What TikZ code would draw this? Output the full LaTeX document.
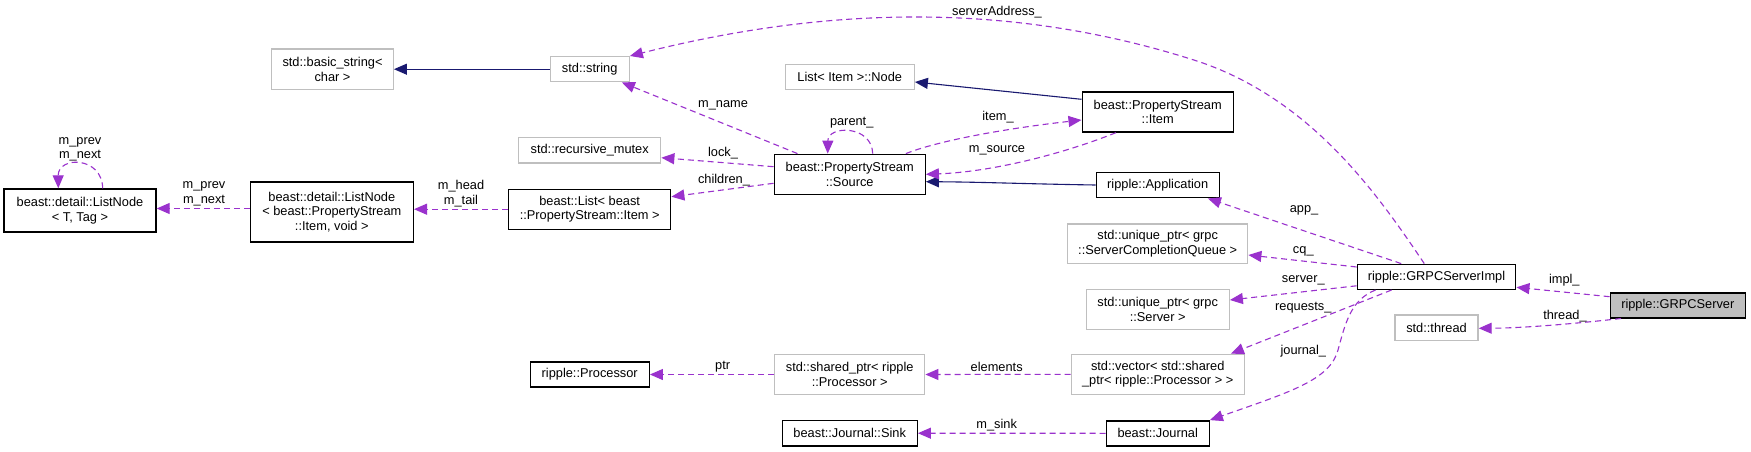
\documentclass[tikz,border=0pt]{standalone}
\usepackage{fontspec}
\setmainfont{Liberation Sans}
\usetikzlibrary{arrows.meta,calc}
\definecolor{purp}{HTML}{9A32CD}
\definecolor{navyb}{HTML}{191970}
\definecolor{gborder}{HTML}{BFBFBF}
\definecolor{gfill}{HTML}{BFBFBF}
\newcommand\dfont{\fontsize{12.8}{14.7}\selectfont}
\tikzset{
  box/.style={draw=black, line width=1.4pt, fill=white, align=center, inner sep=0pt, font=\dfont},
  gbox/.style={box, draw=gborder},
  dep/.style={draw=purp, line width=1.1pt, dash pattern=on 6pt off 4pt, -{Triangle[length=13pt,width=11pt]}},
  inh/.style={draw=navyb, line width=1.1pt, -{Triangle[length=13pt,width=11pt]}},
  lbl/.style={font=\dfont, align=center, inner sep=0pt, text=black},
}
\begin{document}
\begin{tikzpicture}[x=1pt,y=-1pt]
\useasboundingbox (0,0) rectangle (1751,452);
\fill[white] (0,0) rectangle (1751,452);
% nodes
\node[box, minimum width=152pt, minimum height=43pt] (ltag) at (80,210.5) {beast::detail::ListNode\\< T, Tag >};
\node[box, minimum width=163pt, minimum height=60pt] (lnode) at (331.8,212) {beast::detail::ListNode\\< beast::PropertyStream\\::Item, void >};
\node[box, minimum width=162pt, minimum height=40pt] (blist) at (589.7,209.2) {beast::List< beast\\::PropertyStream::Item >};
\node[gbox, minimum width=121.5pt, minimum height=40pt] (bstr) at (332.5,69.2) {std::basic\_string<\\char >};
\node[gbox, minimum width=79pt, minimum height=25pt] (str) at (589.7,69.2) {std::string};
\node[gbox, minimum width=142pt, minimum height=25.5pt] (rmutex) at (589.7,150.3) {std::recursive\_mutex};
\node[box, minimum width=151pt, minimum height=40pt] (src) at (849.7,174.3) {beast::PropertyStream\\::Source};
\node[gbox, minimum width=129pt, minimum height=25.5pt] (linode) at (849.7,77) {List< Item >::Node};
\node[box, minimum width=151pt, minimum height=40pt] (psitem) at (1157.7,112) {beast::PropertyStream\\::Item};
\node[box, minimum width=123pt, minimum height=25.5pt] (app) at (1157.7,185) {ripple::Application};
\node[gbox, minimum width=180pt, minimum height=39.5pt] (scq) at (1157.7,243.7) {std::unique\_ptr< grpc\\::ServerCompletionQueue >};
\node[gbox, minimum width=143pt, minimum height=40pt] (userv) at (1157.7,309.3) {std::unique\_ptr< grpc\\::Server >};
\node[gbox, minimum width=173pt, minimum height=40pt] (vec) at (1157.7,374.3) {std::vector< std::shared\\\_ptr< ripple::Processor > >};
\node[box, minimum width=103pt, minimum height=25pt] (jrnl) at (1157.7,433.3) {beast::Journal};
\node[box, minimum width=158.5pt, minimum height=25pt] (impl) at (1436.5,276.8) {ripple::GRPCServerImpl};
\node[box, fill=gfill, minimum width=135pt, minimum height=25pt] (grpc) at (1677.8,305.3) {ripple::GRPCServer};
\node[gbox, minimum width=83pt, minimum height=25.5pt] (thr) at (1436.5,327.8) {std::thread};
\node[box, minimum width=119pt, minimum height=25pt] (proc) at (589.7,374.5) {ripple::Processor};
\node[gbox, minimum width=150pt, minimum height=39.5pt] (sptr) at (849.7,374.5) {std::shared\_ptr< ripple\\::Processor >};
\node[box, minimum width=135pt, minimum height=25.5pt] (sink) at (849.7,433.2) {beast::Journal::Sink};
% inheritance
\draw[inh] (str.west) -- (bstr.east);
\draw[inh] ($(psitem.north west)+(0,8)$) -- ($(linode.east)+(0,5)$);
\draw[inh] (app.west) .. controls (1030,184) and (980,182) .. ($(src.east)+(0,7.4)$);
% dependencies
\draw[dep] ($(src.north west)+(24,0)$) -- ($(str.south east)+(-8,0)$);
\draw[dep] ($(src.west)+(0,-7.6)$) -- ($(rmutex.east)+(0,7.4)$);
\draw[dep] ($(src.west)+(0,9)$) -- ($(blist.east)+(0,-12.5)$);
\draw[dep] ($(src.north east)+(-20,0)$) .. controls (940,140) and (1010,128) .. ($(psitem.west)+(0,8)$);
\draw[dep] ($(psitem.south west)+(34.4,0)$) .. controls (1060,155) and (990,172) .. (src.east);
\draw[dep] ($(src.north)+(23,0)$) .. controls (872,125) and (828,125) .. ($(src.north)+(-22,0)$);
\draw[dep] (blist.west) -- (blist.west -| lnode.east);
\draw[dep] ($(lnode.west)+(0,-3.5)$) -- ($(ltag.east)+(0,-2)$);
\draw[dep] ($(ltag.north)+(22.7,0)$) .. controls (102,156) and (58,156) .. ($(ltag.north)+(-21.7,0)$);
\draw[dep] ($(impl.north west)+(67.7,0)$) .. controls (1375,190) and (1310,100) .. (1200,62) .. controls (1010,0) and (824,7) .. (str.north east);
\draw[dep] ($(impl.north west)+(44.7,0)$) -- ($(app.south east)+(-12,0)$);
\draw[dep] ($(impl.west)+(0,-9.8)$) -- ($(scq.east)+(0,11.3)$);
\draw[dep] ($(impl.west)+(0,9)$) -- ($(userv.east)+(0,-9.3)$);
\draw[dep] ($(impl.south west)+(35,0)$) -- ($(vec.north east)+(-14,0)$);
\draw[dep] ($(impl.south west)+(19,0)$) .. controls (1350,300) and (1345,325) .. (1338,350) .. controls (1330,380) and (1290,392) .. (jrnl.north east);
\draw[dep] ($(grpc.west)+(0,-8.6)$) -- ($(impl.east)+(0,10.5)$);
\draw[dep] ($(grpc.south west)+(11.4,0)$) .. controls (1590,322) and (1530,328) .. ($(thr.east)+(0,0.5)$);
\draw[dep] (vec.west) -- (sptr.east);
\draw[dep] (sptr.west) -- (proc.east);
\draw[dep] (jrnl.west) -- (sink.east);
% labels
\node[lbl] (t1) at (80,149.4) {m\_prev\\m\_next};
\node[lbl] (t2) at (204,193.7) {m\_prev\\m\_next};
\node[lbl] (t3) at (461,193.5) {m\_head\\m\_tail};
\node[lbl] (t4) at (724,180) {children\_};
\node[lbl] (t5) at (723,152.7) {lock\_};
\node[lbl] (t6) at (723,105) {m\_name};
\node[lbl] (t7) at (851.7,122.3) {parent\_};
\node[lbl] (t8) at (998,116.7) {item\_};
\node[lbl] (t9) at (997,150.7) {m\_source};
\node[lbl] (t10) at (997,11.7) {serverAddress\_};
\node[lbl] (t11) at (1304,210.7) {app\_};
\node[lbl] (t12) at (1303.3,251.7) {cq\_};
\node[lbl] (t13) at (1303.3,280.7) {server\_};
\node[lbl] (t14) at (1303.3,307.7) {requests\_};
\node[lbl] (t15) at (1303.3,351) {journal\_};
\node[lbl] (t16) at (1564.3,280.3) {impl\_};
\node[lbl] (t17) at (1565,315.7) {thread\_};
\node[lbl] (t18) at (722.7,366.7) {ptr};
\node[lbl] (t19) at (996.7,366.7) {elements};
\node[lbl] (t20) at (996.7,425) {m\_sink};
\end{tikzpicture}
\end{document}
